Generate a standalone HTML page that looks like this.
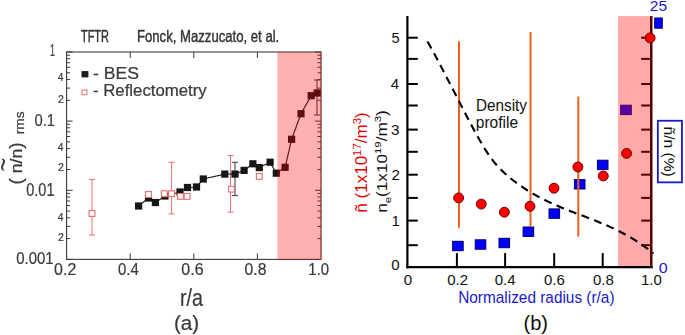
<!DOCTYPE html>
<html><head><meta charset="utf-8"><style>
html,body{margin:0;padding:0;background:#fff;}
svg{display:block;font-family:"Liberation Sans",sans-serif;}
</style></head><body>
<svg width="685" height="335" viewBox="0 0 685 335">
<rect width="685" height="335" fill="#fff"/>
<defs><filter id="soft" x="-5%" y="-5%" width="110%" height="110%"><feGaussianBlur stdDeviation="0.45"/></filter></defs>
<g filter="url(#soft)"><rect x="66.6" y="52.0" width="254.4" height="207.39999999999998" fill="none" stroke="#3a3a3a" stroke-width="1.1"/>
<line x1="130.2" y1="52.0" x2="130.2" y2="58.0" stroke="#3a3a3a" stroke-width="1"/>
<line x1="130.2" y1="259.4" x2="130.2" y2="253.39999999999998" stroke="#3a3a3a" stroke-width="1"/>
<line x1="193.8" y1="52.0" x2="193.8" y2="58.0" stroke="#3a3a3a" stroke-width="1"/>
<line x1="193.8" y1="259.4" x2="193.8" y2="253.39999999999998" stroke="#3a3a3a" stroke-width="1"/>
<line x1="257.4" y1="52.0" x2="257.4" y2="58.0" stroke="#3a3a3a" stroke-width="1"/>
<line x1="257.4" y1="259.4" x2="257.4" y2="253.39999999999998" stroke="#3a3a3a" stroke-width="1"/>
<line x1="66.6" y1="52.0" x2="72.6" y2="52.0" stroke="#3a3a3a" stroke-width="1"/>
<line x1="321.0" y1="52.0" x2="315.0" y2="52.0" stroke="#3a3a3a" stroke-width="1"/>
<line x1="66.6" y1="100.3" x2="70.1" y2="100.3" stroke="#3a3a3a" stroke-width="1"/>
<line x1="321.0" y1="100.3" x2="317.5" y2="100.3" stroke="#3a3a3a" stroke-width="1"/>
<line x1="66.6" y1="88.1" x2="70.1" y2="88.1" stroke="#3a3a3a" stroke-width="1"/>
<line x1="321.0" y1="88.1" x2="317.5" y2="88.1" stroke="#3a3a3a" stroke-width="1"/>
<line x1="66.6" y1="79.5" x2="70.1" y2="79.5" stroke="#3a3a3a" stroke-width="1"/>
<line x1="321.0" y1="79.5" x2="317.5" y2="79.5" stroke="#3a3a3a" stroke-width="1"/>
<line x1="66.6" y1="72.8" x2="70.1" y2="72.8" stroke="#3a3a3a" stroke-width="1"/>
<line x1="321.0" y1="72.8" x2="317.5" y2="72.8" stroke="#3a3a3a" stroke-width="1"/>
<line x1="66.6" y1="67.3" x2="70.1" y2="67.3" stroke="#3a3a3a" stroke-width="1"/>
<line x1="321.0" y1="67.3" x2="317.5" y2="67.3" stroke="#3a3a3a" stroke-width="1"/>
<line x1="66.6" y1="62.7" x2="70.1" y2="62.7" stroke="#3a3a3a" stroke-width="1"/>
<line x1="321.0" y1="62.7" x2="317.5" y2="62.7" stroke="#3a3a3a" stroke-width="1"/>
<line x1="66.6" y1="58.7" x2="70.1" y2="58.7" stroke="#3a3a3a" stroke-width="1"/>
<line x1="321.0" y1="58.7" x2="317.5" y2="58.7" stroke="#3a3a3a" stroke-width="1"/>
<line x1="66.6" y1="55.2" x2="70.1" y2="55.2" stroke="#3a3a3a" stroke-width="1"/>
<line x1="321.0" y1="55.2" x2="317.5" y2="55.2" stroke="#3a3a3a" stroke-width="1"/>
<line x1="66.6" y1="121.1" x2="72.6" y2="121.1" stroke="#3a3a3a" stroke-width="1"/>
<line x1="321.0" y1="121.1" x2="315.0" y2="121.1" stroke="#3a3a3a" stroke-width="1"/>
<line x1="66.6" y1="169.5" x2="70.1" y2="169.5" stroke="#3a3a3a" stroke-width="1"/>
<line x1="321.0" y1="169.5" x2="317.5" y2="169.5" stroke="#3a3a3a" stroke-width="1"/>
<line x1="66.6" y1="157.3" x2="70.1" y2="157.3" stroke="#3a3a3a" stroke-width="1"/>
<line x1="321.0" y1="157.3" x2="317.5" y2="157.3" stroke="#3a3a3a" stroke-width="1"/>
<line x1="66.6" y1="148.6" x2="70.1" y2="148.6" stroke="#3a3a3a" stroke-width="1"/>
<line x1="321.0" y1="148.6" x2="317.5" y2="148.6" stroke="#3a3a3a" stroke-width="1"/>
<line x1="66.6" y1="141.9" x2="70.1" y2="141.9" stroke="#3a3a3a" stroke-width="1"/>
<line x1="321.0" y1="141.9" x2="317.5" y2="141.9" stroke="#3a3a3a" stroke-width="1"/>
<line x1="66.6" y1="136.5" x2="70.1" y2="136.5" stroke="#3a3a3a" stroke-width="1"/>
<line x1="321.0" y1="136.5" x2="317.5" y2="136.5" stroke="#3a3a3a" stroke-width="1"/>
<line x1="66.6" y1="131.8" x2="70.1" y2="131.8" stroke="#3a3a3a" stroke-width="1"/>
<line x1="321.0" y1="131.8" x2="317.5" y2="131.8" stroke="#3a3a3a" stroke-width="1"/>
<line x1="66.6" y1="127.8" x2="70.1" y2="127.8" stroke="#3a3a3a" stroke-width="1"/>
<line x1="321.0" y1="127.8" x2="317.5" y2="127.8" stroke="#3a3a3a" stroke-width="1"/>
<line x1="66.6" y1="124.3" x2="70.1" y2="124.3" stroke="#3a3a3a" stroke-width="1"/>
<line x1="321.0" y1="124.3" x2="317.5" y2="124.3" stroke="#3a3a3a" stroke-width="1"/>
<line x1="66.6" y1="190.3" x2="72.6" y2="190.3" stroke="#3a3a3a" stroke-width="1"/>
<line x1="321.0" y1="190.3" x2="315.0" y2="190.3" stroke="#3a3a3a" stroke-width="1"/>
<line x1="66.6" y1="238.6" x2="70.1" y2="238.6" stroke="#3a3a3a" stroke-width="1"/>
<line x1="321.0" y1="238.6" x2="317.5" y2="238.6" stroke="#3a3a3a" stroke-width="1"/>
<line x1="66.6" y1="226.4" x2="70.1" y2="226.4" stroke="#3a3a3a" stroke-width="1"/>
<line x1="321.0" y1="226.4" x2="317.5" y2="226.4" stroke="#3a3a3a" stroke-width="1"/>
<line x1="66.6" y1="217.8" x2="70.1" y2="217.8" stroke="#3a3a3a" stroke-width="1"/>
<line x1="321.0" y1="217.8" x2="317.5" y2="217.8" stroke="#3a3a3a" stroke-width="1"/>
<line x1="66.6" y1="211.1" x2="70.1" y2="211.1" stroke="#3a3a3a" stroke-width="1"/>
<line x1="321.0" y1="211.1" x2="317.5" y2="211.1" stroke="#3a3a3a" stroke-width="1"/>
<line x1="66.6" y1="205.6" x2="70.1" y2="205.6" stroke="#3a3a3a" stroke-width="1"/>
<line x1="321.0" y1="205.6" x2="317.5" y2="205.6" stroke="#3a3a3a" stroke-width="1"/>
<line x1="66.6" y1="201.0" x2="70.1" y2="201.0" stroke="#3a3a3a" stroke-width="1"/>
<line x1="321.0" y1="201.0" x2="317.5" y2="201.0" stroke="#3a3a3a" stroke-width="1"/>
<line x1="66.6" y1="197.0" x2="70.1" y2="197.0" stroke="#3a3a3a" stroke-width="1"/>
<line x1="321.0" y1="197.0" x2="317.5" y2="197.0" stroke="#3a3a3a" stroke-width="1"/>
<line x1="66.6" y1="193.4" x2="70.1" y2="193.4" stroke="#3a3a3a" stroke-width="1"/>
<line x1="321.0" y1="193.4" x2="317.5" y2="193.4" stroke="#3a3a3a" stroke-width="1"/>
<line x1="66.6" y1="259.4" x2="72.6" y2="259.4" stroke="#3a3a3a" stroke-width="1"/>
<line x1="321.0" y1="259.4" x2="315.0" y2="259.4" stroke="#3a3a3a" stroke-width="1"/>
<line x1="92" y1="179.4" x2="92" y2="235" stroke="#e67272" stroke-width="1"/>
<line x1="89" y1="179.4" x2="95" y2="179.4" stroke="#e67272" stroke-width="1"/>
<line x1="89" y1="235" x2="95" y2="235" stroke="#e67272" stroke-width="1"/>
<line x1="171.6" y1="162.3" x2="171.6" y2="213.9" stroke="#e67272" stroke-width="1"/>
<line x1="168.6" y1="162.3" x2="174.6" y2="162.3" stroke="#e67272" stroke-width="1"/>
<line x1="168.6" y1="213.9" x2="174.6" y2="213.9" stroke="#e67272" stroke-width="1"/>
<line x1="230.5" y1="155.5" x2="230.5" y2="212.2" stroke="#e67272" stroke-width="1"/>
<line x1="227.5" y1="155.5" x2="233.5" y2="155.5" stroke="#e67272" stroke-width="1"/>
<line x1="227.5" y1="212.2" x2="233.5" y2="212.2" stroke="#e67272" stroke-width="1"/>
<polyline points="138.6,206 148.5,198 155.4,202.5 165,196 180,192 187.5,187.5 196.5,187 203.3,179 224.8,174.1 235,174.1 244.1,170.4 252.9,163.8 259.3,167.6 270.1,162.2 276.3,173.2 285.1,167.3 291.6,139.3 301,113.7 311.2,95.7 317.1,93" fill="none" stroke="#222" stroke-width="1.2"/>
<line x1="235" y1="162.3" x2="235" y2="195.6" stroke="#333" stroke-width="1"/>
<line x1="232" y1="162.3" x2="238" y2="162.3" stroke="#333" stroke-width="1"/>
<line x1="232" y1="195.6" x2="238" y2="195.6" stroke="#333" stroke-width="1"/>
<line x1="317" y1="80" x2="317" y2="115" stroke="#333" stroke-width="1"/>
<line x1="314" y1="80" x2="320" y2="80" stroke="#333" stroke-width="1"/>
<line x1="314" y1="115" x2="320" y2="115" stroke="#333" stroke-width="1"/>
<rect x="135.0" y="202.4" width="7.2" height="7.2" fill="#161616"/>
<rect x="144.9" y="194.4" width="7.2" height="7.2" fill="#161616"/>
<rect x="151.8" y="198.9" width="7.2" height="7.2" fill="#161616"/>
<rect x="161.4" y="192.4" width="7.2" height="7.2" fill="#161616"/>
<rect x="176.4" y="188.4" width="7.2" height="7.2" fill="#161616"/>
<rect x="183.9" y="183.9" width="7.2" height="7.2" fill="#161616"/>
<rect x="192.9" y="183.4" width="7.2" height="7.2" fill="#161616"/>
<rect x="199.7" y="175.4" width="7.2" height="7.2" fill="#161616"/>
<rect x="221.2" y="170.5" width="7.2" height="7.2" fill="#161616"/>
<rect x="231.4" y="170.5" width="7.2" height="7.2" fill="#161616"/>
<rect x="240.5" y="166.8" width="7.2" height="7.2" fill="#161616"/>
<rect x="249.3" y="160.2" width="7.2" height="7.2" fill="#161616"/>
<rect x="255.7" y="164.0" width="7.2" height="7.2" fill="#161616"/>
<rect x="266.5" y="158.6" width="7.2" height="7.2" fill="#161616"/>
<rect x="272.7" y="169.6" width="7.2" height="7.2" fill="#161616"/>
<rect x="281.5" y="163.7" width="7.2" height="7.2" fill="#161616"/>
<rect x="288.0" y="135.7" width="7.2" height="7.2" fill="#161616"/>
<rect x="297.4" y="110.1" width="7.2" height="7.2" fill="#161616"/>
<rect x="307.6" y="92.1" width="7.2" height="7.2" fill="#161616"/>
<rect x="313.5" y="89.4" width="7.2" height="7.2" fill="#161616"/>
<rect x="89.1" y="210.6" width="5.8" height="5.8" fill="#fff" stroke="#e67272" stroke-width="1.15"/>
<rect x="145.6" y="191.6" width="5.8" height="5.8" fill="#fff" stroke="#e67272" stroke-width="1.15"/>
<rect x="161.4" y="190.8" width="5.8" height="5.8" fill="#fff" stroke="#e67272" stroke-width="1.15"/>
<rect x="168.7" y="190.8" width="5.8" height="5.8" fill="#fff" stroke="#e67272" stroke-width="1.15"/>
<rect x="177.5" y="193.5" width="5.8" height="5.8" fill="#fff" stroke="#e67272" stroke-width="1.15"/>
<rect x="184.2" y="193.5" width="5.8" height="5.8" fill="#fff" stroke="#e67272" stroke-width="1.15"/>
<rect x="228.6" y="186.3" width="5.8" height="5.8" fill="#fff" stroke="#e67272" stroke-width="1.15"/>
<rect x="256.4" y="173.5" width="5.8" height="5.8" fill="#fff" stroke="#e67272" stroke-width="1.15"/>
<rect x="277.4" y="52.0" width="44.200000000000024" height="207.89999999999998" fill="rgb(255,0,0)" fill-opacity="0.31"/>
<rect x="81.5" y="71.1" width="6.9" height="6.3" fill="#1a1a1a"/>
<rect x="82" y="90" width="4.9" height="4.7" fill="#fff" stroke="#e67272" stroke-width="1"/>
<g id="t_tftr" transform="matrix(0.6869,0,0,1.0476,80.92,42.33)"><text x="0" y="0" font-size="16" fill="#3a3a3a" text-anchor="start" stroke="#2b2b2b" stroke-width="0.45">TFTR</text></g>
<g id="t_fonck" transform="matrix(0.8213,0,0,1.0549,136.99,41.96)"><text x="0" y="0" font-size="16" fill="#3a3a3a" text-anchor="start" stroke="#2b2b2b" stroke-width="0.4">Fonck, Mazzucato, et al.</text></g>
<g id="t_bes" transform="matrix(1.1740,0,0,1.1588,93.11,78.69)"><text x="0" y="0" font-size="15" fill="#3a3a3a" text-anchor="start"  stroke="#3a3a3a" stroke-width="0.2">- BES</text></g>
<g id="t_refl" transform="matrix(1.1203,0,0,1.1175,92.95,96.38)"><text x="0" y="0" font-size="15" fill="#3a3a3a" text-anchor="start"  stroke="#3a3a3a" stroke-width="0.2">- Reflectometry</text></g>
<g id="t_y1" transform="matrix(0.5610,0,0,1.0476,54.97,55.75)"><text x="0" y="0" font-size="16" fill="#3a3a3a" text-anchor="end"  stroke="#3a3a3a" stroke-width="0.2">1</text></g>
<g id="t_y01" transform="matrix(0.9229,0,0,1.0283,55.02,125.72)"><text x="0" y="0" font-size="16" fill="#3a3a3a" text-anchor="end"  stroke="#3a3a3a" stroke-width="0.2">0.1</text></g>
<g id="t_y001" transform="matrix(0.9069,0,0,1.0922,54.45,195.67)"><text x="0" y="0" font-size="16" fill="#3a3a3a" text-anchor="end"  stroke="#3a3a3a" stroke-width="0.2">0.01</text></g>
<g id="t_y0001" transform="matrix(0.9364,0,0,1.0697,53.68,264.25)"><text x="0" y="0" font-size="16" fill="#3a3a3a" text-anchor="end"  stroke="#3a3a3a" stroke-width="0.2">0.001</text></g>
<g id="t_l4_0" transform="matrix(0.9766,0,0,0.9766,63.48,81.49)"><text x="0" y="0" font-size="10.5" fill="#3a3a3a" text-anchor="end"  stroke="#3a3a3a" stroke-width="0.2">4</text></g>
<g id="t_l4_1" transform="matrix(0.9766,0,0,0.9766,63.48,151.33)"><text x="0" y="0" font-size="10.5" fill="#3a3a3a" text-anchor="end"  stroke="#3a3a3a" stroke-width="0.2">4</text></g>
<g id="t_l4_2" transform="matrix(0.9766,0,0,0.9766,63.48,221.33)"><text x="0" y="0" font-size="10.5" fill="#3a3a3a" text-anchor="end"  stroke="#3a3a3a" stroke-width="0.2">4</text></g>
<g id="t_l2_0" transform="matrix(1.0000,0,0,1.0000,63.84,103.31)"><text x="0" y="0" font-size="10.5" fill="#3a3a3a" text-anchor="end"  stroke="#3a3a3a" stroke-width="0.2">2</text></g>
<g id="t_l2_1" transform="matrix(1.0000,0,0,1.0000,63.84,171.31)"><text x="0" y="0" font-size="10.5" fill="#3a3a3a" text-anchor="end"  stroke="#3a3a3a" stroke-width="0.2">2</text></g>
<g id="t_l2_2" transform="matrix(1.0000,0,0,1.0000,63.84,241.31)"><text x="0" y="0" font-size="10.5" fill="#3a3a3a" text-anchor="end"  stroke="#3a3a3a" stroke-width="0.2">2</text></g>
<g id="t_x02" transform="matrix(0.9994,0,0,1.0699,65.17,275.31)"><text x="0" y="0" font-size="16" fill="#3a3a3a" text-anchor="middle"  stroke="#3a3a3a" stroke-width="0.2">0.2</text></g>
<g id="t_x04" transform="matrix(0.9389,0,0,1.0001,128.35,274.53)"><text x="0" y="0" font-size="16" fill="#3a3a3a" text-anchor="middle"  stroke="#3a3a3a" stroke-width="0.2">0.4</text></g>
<g id="t_x06" transform="matrix(0.9979,0,0,1.0170,192.45,274.73)"><text x="0" y="0" font-size="16" fill="#3a3a3a" text-anchor="middle"  stroke="#3a3a3a" stroke-width="0.2">0.6</text></g>
<g id="t_x08" transform="matrix(0.9841,0,0,0.9885,255.50,274.74)"><text x="0" y="0" font-size="16" fill="#3a3a3a" text-anchor="middle"  stroke="#3a3a3a" stroke-width="0.2">0.8</text></g>
<g id="t_x10" transform="matrix(0.9317,0,0,1.0170,318.72,274.73)"><text x="0" y="0" font-size="16" fill="#3a3a3a" text-anchor="middle"  stroke="#3a3a3a" stroke-width="0.2">1.0</text></g>
<g id="t_ra" transform="matrix(0.9379,0,0,1.1427,191.38,305.91)"><text x="0" y="0" font-size="21" fill="#3a3a3a" text-anchor="middle"  stroke="#3a3a3a" stroke-width="0.2">r/a</text></g>
<g id="t_a" transform="matrix(1.1440,0,0,1.0798,186.52,329.55)"><text x="0" y="0" font-size="18" fill="#3a3a3a" text-anchor="middle"  stroke="#3a3a3a" stroke-width="0.2">(a)</text></g>
<g id="t_nn" transform="matrix(1.0398,0,0,1.1053,21.81,184.45)"><text transform="rotate(-90)" x="0" y="0" font-size="16" fill="#3a3a3a" stroke="#3a3a3a" stroke-width="0.25"><tspan font-size="17">(</tspan> n/n<tspan font-size="17">)</tspan></text></g>
<g id="t_tilde" transform="matrix(1.8904,0,0,1.5813,13.00,171.51)"><text transform="rotate(-90)" x="0" y="0" font-size="15" fill="#3a3a3a">~</text></g>
<g id="t_rms" transform="matrix(1.2078,0,0,1.3656,23.55,134.20)"><text transform="rotate(-90)" x="0" y="0" font-size="10" fill="#3a3a3a" stroke="#3a3a3a" stroke-width="0.2">rms</text></g></g>
<line x1="651" y1="245.2" x2="641.2" y2="245.2" stroke="#000" stroke-width="2"/>
<line x1="651" y1="220.6" x2="641.2" y2="220.6" stroke="#000" stroke-width="2"/>
<line x1="651" y1="197.9" x2="641.2" y2="197.9" stroke="#000" stroke-width="2"/>
<line x1="651" y1="174.7" x2="641.2" y2="174.7" stroke="#000" stroke-width="2"/>
<line x1="651" y1="151.8" x2="641.2" y2="151.8" stroke="#000" stroke-width="2"/>
<line x1="651" y1="129.6" x2="641.2" y2="129.6" stroke="#000" stroke-width="2"/>
<line x1="651" y1="105.5" x2="641.2" y2="105.5" stroke="#000" stroke-width="2"/>
<line x1="651" y1="84.0" x2="641.2" y2="84.0" stroke="#000" stroke-width="2"/>
<line x1="651" y1="58.9" x2="641.2" y2="58.9" stroke="#000" stroke-width="2"/>
<line x1="651" y1="37.7" x2="641.2" y2="37.7" stroke="#000" stroke-width="2"/>
<line x1="651.2" y1="16.1" x2="651.2" y2="267.5" stroke="#000" stroke-width="2.4"/>
<rect x="452.6" y="241.3" width="10.6" height="9.4" fill="#0000ff" stroke="#000070" stroke-width="1"/>
<rect x="475.2" y="239.8" width="10.6" height="9.4" fill="#0000ff" stroke="#000070" stroke-width="1"/>
<rect x="499.0" y="238.3" width="10.6" height="9.4" fill="#0000ff" stroke="#000070" stroke-width="1"/>
<rect x="523.1" y="227.0" width="10.6" height="9.4" fill="#0000ff" stroke="#000070" stroke-width="1"/>
<rect x="549.0" y="208.9" width="10.6" height="9.4" fill="#0000ff" stroke="#000070" stroke-width="1"/>
<rect x="574.4" y="179.6" width="10.6" height="9.4" fill="#0000ff" stroke="#000070" stroke-width="1"/>
<rect x="597.4" y="160.2" width="10.6" height="9.4" fill="#0000ff" stroke="#000070" stroke-width="1"/>
<rect x="620.7" y="105.2" width="10.6" height="9.4" fill="#0000ff" stroke="#000070" stroke-width="1"/>
<rect x="654.7" y="18" width="7.6" height="10.2" fill="#0000ff" stroke="#000070" stroke-width="1"/>
<rect x="618.1" y="16.1" width="34.299999999999955" height="250.4" fill="rgb(255,0,0)" fill-opacity="0.333"/>
<line x1="459" y1="41.3" x2="459" y2="227.8" stroke="#e8601c" stroke-width="2"/>
<line x1="530.5" y1="32.1" x2="530.5" y2="226.5" stroke="#e8601c" stroke-width="2"/>
<line x1="578.3" y1="96.5" x2="578.3" y2="236.6" stroke="#e8601c" stroke-width="2"/>
<polyline points="427.5,41.5 430.3,46.5 433.2,51.7 436.0,57.0 438.9,62.4 441.8,67.9 444.6,73.3 447.5,78.9 450.3,84.4 453.2,90.0 456.1,95.6 458.9,101.1 461.8,106.7 464.7,112.3 467.5,117.7 470.4,123.2 473.2,128.5 476.1,133.8 479.0,138.9 481.8,143.8 484.7,148.6 487.6,153.1 490.4,157.2 493.3,161.1 496.1,164.5 499.0,167.7 501.9,170.6 504.7,173.3 507.6,175.8 510.4,178.2 513.3,180.5 516.2,182.6 519.0,184.7 521.9,186.7 524.8,188.7 527.6,190.5 530.5,192.2 533.3,193.9 536.2,195.5 539.1,197.1 541.9,198.6 544.8,200.0 547.6,201.4 550.5,202.8 553.4,204.1 556.2,205.3 559.1,206.5 561.9,207.7 564.8,208.9 567.7,210.0 570.5,211.2 573.4,212.3 576.2,213.4 579.1,214.4 582.0,215.5 584.8,216.6 587.7,217.7 590.5,218.8 593.4,219.9 596.3,221.0 599.1,222.2 602.0,223.4 604.8,224.6 607.7,225.8 610.5,227.1 613.4,228.4 616.3,229.8 619.1,231.2 622.0,232.7 624.8,234.2 627.7,235.8 630.6,237.4 633.4,239.1 636.3,241.0 639.1,242.8 642.0,244.8 644.9,246.8 647.7,248.9 650.6,251.2 653.5,253.5" fill="none" stroke="#000" stroke-width="2.1" stroke-dasharray="8,5.42" stroke-dashoffset="0.1"/>
<line x1="407.4" y1="16" x2="407.4" y2="268.3" stroke="#000" stroke-width="2.2"/>
<line x1="406.3" y1="267.2" x2="652.8" y2="267.2" stroke="#000" stroke-width="2.2"/>
<line x1="407.3" y1="245.2" x2="417.8" y2="245.2" stroke="#000" stroke-width="2"/>
<line x1="407.3" y1="220.6" x2="417.8" y2="220.6" stroke="#000" stroke-width="2"/>
<line x1="407.3" y1="197.9" x2="417.8" y2="197.9" stroke="#000" stroke-width="2"/>
<line x1="407.3" y1="174.7" x2="417.8" y2="174.7" stroke="#000" stroke-width="2"/>
<line x1="407.3" y1="151.8" x2="417.8" y2="151.8" stroke="#000" stroke-width="2"/>
<line x1="407.3" y1="129.6" x2="417.8" y2="129.6" stroke="#000" stroke-width="2"/>
<line x1="407.3" y1="105.5" x2="417.8" y2="105.5" stroke="#000" stroke-width="2"/>
<line x1="407.3" y1="84.0" x2="417.8" y2="84.0" stroke="#000" stroke-width="2"/>
<line x1="407.3" y1="58.9" x2="417.8" y2="58.9" stroke="#000" stroke-width="2"/>
<line x1="407.3" y1="37.7" x2="417.8" y2="37.7" stroke="#000" stroke-width="2"/>
<line x1="456.9" y1="267" x2="456.9" y2="253.1" stroke="#000" stroke-width="2"/>
<line x1="505.1" y1="267" x2="505.1" y2="253.1" stroke="#000" stroke-width="2"/>
<line x1="554.2" y1="267" x2="554.2" y2="253.1" stroke="#000" stroke-width="2"/>
<line x1="602.7" y1="267" x2="602.7" y2="253.1" stroke="#000" stroke-width="2"/>
<circle cx="458.6" cy="197.9" r="4.95" fill="#ff0000" stroke="#700000" stroke-width="1"/>
<circle cx="481.3" cy="204.1" r="4.95" fill="#ff0000" stroke="#700000" stroke-width="1"/>
<circle cx="504.4" cy="212.2" r="4.95" fill="#ff0000" stroke="#700000" stroke-width="1"/>
<circle cx="530" cy="206.3" r="4.95" fill="#ff0000" stroke="#700000" stroke-width="1"/>
<circle cx="554" cy="188.2" r="4.95" fill="#ff0000" stroke="#700000" stroke-width="1"/>
<circle cx="577.9" cy="167" r="4.95" fill="#ff0000" stroke="#700000" stroke-width="1"/>
<circle cx="603.3" cy="176" r="4.95" fill="#ff0000" stroke="#700000" stroke-width="1"/>
<circle cx="626.6" cy="153.4" r="4.95" fill="#ff0000" stroke="#700000" stroke-width="1"/>
<circle cx="650.1" cy="37.9" r="4.95" fill="#ff0000" stroke="#700000" stroke-width="1"/>
<rect x="657.85" y="120.75" width="24.1" height="61.6" fill="#fff" stroke="#1a1acc" stroke-width="1.8"/>
<g id="r_y0" transform="matrix(1.0058,0,0,1.0058,399.53,270.35)"><text x="0" y="0" font-size="15" fill="#111" text-anchor="end" >0</text></g>
<g id="r_y1" transform="matrix(1.0058,0,0,1.0058,399.87,226.30)"><text x="0" y="0" font-size="15" fill="#111" text-anchor="end" >1</text></g>
<g id="r_y2" transform="matrix(1.0058,0,0,1.0058,399.87,180.40)"><text x="0" y="0" font-size="15" fill="#111" text-anchor="end" >2</text></g>
<g id="r_y3" transform="matrix(1.0108,0,0,1.0108,399.40,135.30)"><text x="0" y="0" font-size="15" fill="#111" text-anchor="end" >3</text></g>
<g id="r_y4" transform="matrix(1.0116,0,0,1.0116,399.28,89.32)"><text x="0" y="0" font-size="15" fill="#111" text-anchor="end" >4</text></g>
<g id="r_y5" transform="matrix(0.9777,0,0,0.9777,399.63,43.05)"><text x="0" y="0" font-size="15" fill="#111" text-anchor="end" >5</text></g>
<g id="r_x0" transform="matrix(1.0003,0,0,1.0003,408.00,285.46)"><text x="0" y="0" font-size="15" fill="#111" text-anchor="middle" >0</text></g>
<g id="r_x02" transform="matrix(1.0003,0,0,1.0003,457.61,285.46)"><text x="0" y="0" font-size="15" fill="#111" text-anchor="middle" >0.2</text></g>
<g id="r_x04" transform="matrix(1.0003,0,0,1.0003,505.09,285.46)"><text x="0" y="0" font-size="15" fill="#111" text-anchor="middle" >0.4</text></g>
<g id="r_x06" transform="matrix(1.0003,0,0,1.0003,554.40,285.46)"><text x="0" y="0" font-size="15" fill="#111" text-anchor="middle" >0.6</text></g>
<g id="r_x08" transform="matrix(1.0003,0,0,1.0003,603.40,285.46)"><text x="0" y="0" font-size="15" fill="#111" text-anchor="middle" >0.8</text></g>
<g id="r_x10" transform="matrix(1.0003,0,0,1.0003,651.33,285.46)"><text x="0" y="0" font-size="15" fill="#111" text-anchor="middle" >1.0</text></g>
<g id="r_norm" transform="matrix(1.0991,0,0,1.1262,458.22,302.58)"><text x="0" y="0" font-size="14" fill="#1a1acc" text-anchor="start" >Normalized radius (r/a)</text></g>
<g id="r_b" transform="matrix(1.1136,0,0,1.0791,535.72,329.53)"><text x="0" y="0" font-size="18" fill="#111" text-anchor="middle" >(b)</text></g>
<g id="r_25" transform="matrix(1.0345,0,0,0.9988,649.82,11.49)"><text x="0" y="0" font-size="15" fill="#1a1acc" text-anchor="start" >25</text></g>
<g id="r_0b" transform="matrix(1.1429,0,0,1.0430,658.77,273.17)"><text x="0" y="0" font-size="14" fill="#1a1acc" text-anchor="start" >0</text></g>
<g id="r_dens" transform="matrix(1.0211,0,0,1.0938,475.96,110.96)"><text x="0" y="0" font-size="15" fill="#111" text-anchor="start" >Density</text></g>
<g id="r_prof" transform="matrix(1.0372,0,0,1.0868,475.79,128.21)"><text x="0" y="0" font-size="15" fill="#111" text-anchor="start" >profile</text></g>
<g id="r_lred" transform="matrix(1.0806,0,0,1.1366,367.20,212.72)"><text transform="rotate(-90)" x="0" y="0" font-size="15" fill="#e00000">ñ (1x10<tspan font-size="10" dy="-6">17</tspan><tspan dy="6">/m</tspan><tspan font-size="10" dy="-6">3</tspan><tspan dy="6">)</tspan></text></g>
<g id="r_lblk" transform="matrix(0.9832,0,0,1.1427,387.37,212.76)"><text transform="rotate(-90)" x="0" y="0" font-size="15" fill="#111">n<tspan font-size="10" dy="4">e</tspan><tspan dy="-4">(1x10</tspan><tspan font-size="10" dy="-6">19</tspan><tspan dy="6">/m</tspan><tspan font-size="10" dy="-6">3</tspan><tspan dy="6">)</tspan></text></g>
<g id="r_box" transform="matrix(1.0275,0,0,1.0398,663.91,126.52)"><text transform="rotate(90)" x="0" y="0" font-size="15" fill="#111">ñ/n (%)</text></g>
</svg></body></html>
